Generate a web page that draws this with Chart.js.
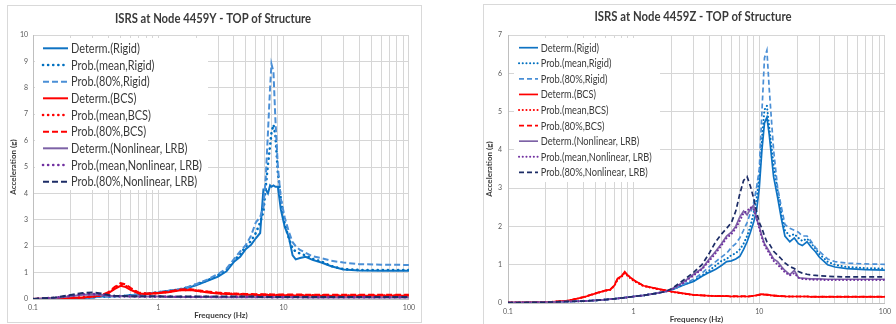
<!DOCTYPE html>
<html><head><meta charset="utf-8">
<script src="https://cdn.jsdelivr.net/npm/chart.js@4.4.1/dist/chart.umd.min.js"></script>
<style>
html,body{margin:0;padding:0;background:#fff;width:896px;height:324px;overflow:hidden;}
.box{position:absolute;border:1px solid #d9d9d9;background:#fff;box-sizing:border-box;}
#boxY{left:7px;top:5px;width:415px;height:318px;}
#boxZ{left:483px;top:4px;width:430px;height:340px;}
canvas{position:absolute;}
</style></head><body>
<div class="box" id="boxY"></div>
<div class="box" id="boxZ"></div>
<canvas id="cY" style="left:8px;top:6px" width="412" height="315"></canvas>
<canvas id="cZ" style="left:484px;top:5px" width="412" height="319"></canvas>
<script>
// ---------- labels ----------
const seriesLabels = ['Determ.(Rigid)','Prob.(mean,Rigid)','Prob.(80%,Rigid)','Determ.(BCS)','Prob.(mean,BCS)','Prob.(80%,BCS)','Determ.(Nonlinear, LRB)','Prob.(mean,Nonlinear, LRB)','Prob.(80%,Nonlinear, LRB)'];
const titleY = 'ISRS at Node 4459Y - TOP of Structure';
const titleZ = 'ISRS at Node 4459Z - TOP of Structure';
const xTickValues = [0.1, 1, 10, 100];
const xTickLabels = ['0.1', '1', '10', '100'];
const yTicksY = [0,1,2,3,4,5,6,7,8,9,10];
const yTicksZ = [0,1,2,3,4,5,6,7];

// ---------- 4459Y data ----------
const freqY = [0.1,0.15,0.2,0.25,0.3,0.35,0.4,0.45,0.5,0.55, 0.6,0.7,0.8,1.0,1.2,1.5,1.8,2.0,2.5,3.0, 3.5,4.0,4.5,5.0,5.5,6.0,6.5,6.9,7.2,7.5, 7.8,8.0,8.3,8.6,9.0,9.5,10.2,11.0,11.8,12.5, 13.5,15,17,20,24,30,40,60,100];
const yDetRigid  = [0,0.01,0.02,0.04,0.06,0.09,0.09,0.1,0.11,0.12, 0.14,0.17,0.2,0.25,0.3,0.36,0.45,0.52,0.7,0.85, 1.05,1.4,1.6,1.9,2.05,2.3,2.5,4.15,4.15,4.0, 4.3,4.25,4.3,4.25,4.25,3.4,2.74,2.35,1.65,1.5, 1.55,1.6,1.48,1.38,1.24,1.12,1.08,1.07,1.07];
const yMeanRigid = [0,0.01,0.02,0.04,0.06,0.09,0.09,0.1,0.11,0.12, 0.14,0.17,0.2,0.25,0.3,0.37,0.47,0.55,0.72,0.9, 1.1,1.45,1.7,2.0,2.2,2.5,2.9,3.3,4.25,5.1, 5.8,6.3,6.6,6.2,4.8,3.8,2.85,2.3,1.9,1.8, 1.72,1.65,1.52,1.42,1.25,1.13,1.1,1.1,1.1];
const y80Rigid   = [0,0.01,0.02,0.04,0.06,0.09,0.09,0.1,0.11,0.12, 0.14,0.17,0.2,0.26,0.31,0.38,0.48,0.56,0.75,0.95, 1.15,1.5,1.8,2.05,2.4,2.9,3.1,3.5,4.6,6.3, 8.0,8.9,8.6,6.8,5.0,3.8,3.1,2.55,2.15,2.0, 1.86,1.75,1.62,1.55,1.45,1.38,1.32,1.3,1.29];
const yDetBCS    = [0,0.02,0.04,0.06,0.09,0.13,0.22,0.38,0.5,0.45, 0.35,0.21,0.19,0.22,0.26,0.33,0.34,0.31,0.25,0.21, 0.19,0.18,0.17,0.16,0.16,0.15,0.15,0.15,0.15,0.15, 0.15,0.14,0.14,0.14,0.14,0.14,0.14,0.13,0.13,0.13, 0.13,0.13,0.13,0.12,0.12,0.12,0.12,0.12,0.12];
const yMeanBCS   = [0,0.02,0.04,0.06,0.09,0.14,0.24,0.42,0.55,0.5, 0.38,0.22,0.2,0.23,0.27,0.34,0.35,0.32,0.26,0.22, 0.2,0.19,0.18,0.17,0.17,0.16,0.16,0.16,0.16,0.16, 0.16,0.15,0.15,0.15,0.15,0.15,0.15,0.14,0.14,0.14, 0.14,0.14,0.14,0.14,0.13,0.13,0.13,0.13,0.13];
const y80BCS     = [0,0.02,0.04,0.06,0.1,0.15,0.26,0.46,0.6,0.55, 0.42,0.24,0.21,0.24,0.28,0.36,0.37,0.34,0.28,0.24, 0.22,0.21,0.2,0.19,0.19,0.18,0.18,0.18,0.18,0.18, 0.18,0.17,0.17,0.17,0.17,0.17,0.17,0.17,0.17,0.17, 0.17,0.16,0.16,0.16,0.16,0.16,0.16,0.16,0.16];
const yDetLRB    = [0,0.04,0.1,0.16,0.17,0.15,0.12,0.1,0.1,0.1, 0.09,0.09,0.09,0.09,0.08,0.08,0.08,0.08,0.08,0.07, 0.07,0.07,0.07,0.07,0.07,0.07,0.07,0.07,0.07,0.07, 0.07,0.07,0.07,0.07,0.07,0.07,0.07,0.07,0.07,0.07, 0.07,0.06,0.06,0.06,0.06,0.06,0.06,0.06,0.06];
const yMeanLRB   = [0,0.05,0.12,0.18,0.19,0.17,0.13,0.11,0.1,0.1, 0.1,0.09,0.09,0.09,0.09,0.08,0.08,0.08,0.08,0.08, 0.08,0.08,0.08,0.08,0.08,0.08,0.08,0.08,0.08,0.08, 0.07,0.07,0.07,0.07,0.07,0.07,0.07,0.07,0.07,0.07, 0.07,0.07,0.07,0.07,0.07,0.07,0.07,0.07,0.07];
const y80LRB     = [0,0.06,0.15,0.23,0.25,0.21,0.15,0.12,0.11,0.11, 0.1,0.1,0.1,0.1,0.09,0.09,0.09,0.09,0.09,0.09, 0.09,0.09,0.09,0.09,0.09,0.09,0.08,0.08,0.08,0.08, 0.08,0.08,0.08,0.08,0.08,0.08,0.08,0.08,0.08,0.08, 0.08,0.08,0.08,0.08,0.08,0.08,0.08,0.08,0.08];

// ---------- 4459Z data ----------
const freqZ = [0.1,0.15,0.2,0.3,0.4,0.5,0.6,0.65,0.7,0.75, 0.8,0.85,0.9,1.0,1.2,1.5,1.8,2.0,2.5,3.0, 3.5,4.0,4.5,5.0,5.5,6.0,6.5,7.0,7.5,8.0, 8.5,9.0,9.5,10.0,10.5,11.0,11.5,12.0,13.0,14.0, 15.0,16.0,17.5,19.0,20.5,22,24,26,28,30, 35,40,50,70,100];
const zDetRigid  = [0.01,0.015,0.02,0.04,0.05,0.07,0.09,0.1,0.11,0.12, 0.13,0.14,0.15,0.17,0.2,0.25,0.3,0.34,0.47,0.56, 0.7,0.8,0.88,0.98,1.08,1.1,1.15,1.22,1.4,1.6, 1.85,2.1,2.4,3.0,4.0,4.7,4.85,4.4,3.3,2.75, 2.2,1.75,1.6,1.7,1.55,1.5,1.6,1.45,1.34,1.2, 1.0,0.94,0.9,0.87,0.86];
const zMeanRigid = [0.01,0.015,0.02,0.04,0.05,0.07,0.09,0.1,0.11,0.12, 0.13,0.14,0.15,0.17,0.2,0.25,0.3,0.34,0.48,0.58, 0.72,0.85,0.98,1.1,1.15,1.25,1.3,1.4,1.55,1.75, 2.0,2.35,2.7,3.3,4.3,5.05,5.15,4.6,3.6,2.95, 2.35,1.9,1.75,1.8,1.7,1.62,1.68,1.55,1.42,1.28, 1.08,1.0,0.94,0.91,0.9];
const z80Rigid   = [0.01,0.015,0.02,0.04,0.05,0.07,0.09,0.1,0.11,0.12, 0.13,0.14,0.15,0.17,0.2,0.25,0.3,0.34,0.49,0.62, 0.78,0.95,1.08,1.2,1.3,1.45,1.55,1.7,1.9,2.1, 2.35,2.6,3.0,3.5,5.0,6.4,6.6,5.6,4.0,3.0, 2.5,2.05,1.95,1.9,1.85,1.75,1.75,1.6,1.45,1.35, 1.15,1.08,1.04,1.02,1.01];
const zDetBCS    = [0.01,0.015,0.02,0.06,0.15,0.25,0.33,0.35,0.45,0.65, 0.7,0.82,0.72,0.6,0.45,0.38,0.33,0.3,0.25,0.21, 0.2,0.19,0.18,0.18,0.18,0.17,0.17,0.17,0.17,0.17, 0.17,0.19,0.2,0.22,0.23,0.22,0.22,0.21,0.19,0.18, 0.18,0.17,0.17,0.17,0.17,0.17,0.17,0.16,0.16,0.16, 0.16,0.16,0.16,0.16,0.16];
const zMeanBCS   = [0.01,0.015,0.02,0.06,0.15,0.25,0.32,0.34,0.44,0.62, 0.68,0.78,0.7,0.58,0.44,0.37,0.32,0.29,0.24,0.21, 0.2,0.19,0.18,0.18,0.18,0.17,0.17,0.17,0.17,0.17, 0.17,0.19,0.2,0.21,0.22,0.22,0.21,0.2,0.19,0.18, 0.18,0.17,0.17,0.17,0.17,0.17,0.17,0.16,0.16,0.16, 0.16,0.16,0.16,0.16,0.16];
const z80BCS     = [0.01,0.015,0.02,0.06,0.16,0.26,0.33,0.35,0.46,0.66, 0.7,0.8,0.72,0.6,0.45,0.38,0.33,0.3,0.25,0.21, 0.2,0.19,0.19,0.18,0.18,0.18,0.18,0.18,0.18,0.18, 0.18,0.19,0.2,0.22,0.23,0.22,0.22,0.21,0.2,0.19, 0.18,0.18,0.17,0.17,0.17,0.17,0.17,0.17,0.17,0.17, 0.17,0.17,0.17,0.17,0.17];
const zDetLRB    = [0.01,0.015,0.02,0.04,0.05,0.07,0.09,0.1,0.11,0.12, 0.13,0.14,0.15,0.17,0.2,0.25,0.3,0.36,0.55,0.75, 0.9,1.15,1.35,1.55,1.75,1.85,2.0,2.25,2.4,2.3, 2.45,2.55,2.2,2.0,1.75,1.55,1.45,1.35,1.15,1.08, 0.95,0.85,0.74,0.85,0.66,0.65,0.64,0.63,0.63,0.63, 0.62,0.62,0.62,0.62,0.62];
const zMeanLRB   = [0.01,0.015,0.02,0.04,0.05,0.07,0.09,0.1,0.11,0.12, 0.13,0.14,0.15,0.17,0.2,0.25,0.3,0.35,0.53,0.72, 0.88,1.1,1.3,1.5,1.7,1.8,1.95,2.15,2.35,2.4, 2.5,2.45,2.25,1.95,1.7,1.5,1.4,1.3,1.1,1.0, 0.9,0.8,0.72,0.78,0.66,0.63,0.62,0.61,0.61,0.61, 0.6,0.6,0.6,0.6,0.6];
const z80LRB     = [0.01,0.015,0.02,0.04,0.05,0.07,0.09,0.1,0.11,0.12, 0.13,0.14,0.15,0.17,0.2,0.25,0.3,0.37,0.6,0.8, 1.0,1.3,1.6,1.8,1.95,2.1,2.4,2.85,3.2,3.3, 3.05,2.75,2.4,2.1,1.95,1.75,1.6,1.55,1.35,1.25, 1.15,1.05,0.95,0.9,0.82,0.78,0.75,0.73,0.72,0.71, 0.7,0.69,0.68,0.68,0.68];

// ---------- styles ----------
const seriesColors = ['#0F73C3','#0070C0','#4A8FD6','#FF0000','#FF0000','#FF0000','#7D62A6','#7030A0','#1C2C66'];
const seriesKinds  = ['solid','dot','dash','solid','dot','dash','solid','dot','dash'];

function gridValues() {
  const out = [];
  [0.1, 1, 10].forEach(d => { for (let m = 1; m < 10; m++) out.push(parseFloat((d * m).toPrecision(3))); });
  out.push(100);
  return out;
}

const legendPlugin = {
  id: 'boxLegend',
  beforeDatasetsDraw(chart, args, o) {
    const ctx = chart.ctx;
    ctx.save();
    ctx.fillStyle = '#ffffff';
    ctx.fillRect(o.box[0], o.box[1], o.box[2], o.box[3]);
    ctx.font = o.font;
    ctx.textBaseline = 'middle';
    ctx.textAlign = 'left';
    const ds = chart.data.datasets;
    const widths = ds.map(d => ctx.measureText(d.label).width);
    const k = Math.min(1, o.textW / Math.max(...widths));
    ds.forEach((d, i) => {
      const y = o.y0 + i * o.rowH;
      ctx.strokeStyle = d.borderColor;
      ctx.lineWidth = d.borderWidth;
      ctx.lineCap = d.borderCapStyle || 'butt';
      ctx.setLineDash(d.borderDash || []);
      ctx.beginPath(); ctx.moveTo(o.x0, y); ctx.lineTo(o.x0 + o.sampleW, y); ctx.stroke();
      ctx.setLineDash([]);
      ctx.fillStyle = '#3a3a3a';
      ctx.fillText(d.label, o.tx, y + 0.5, widths[i] * k);
    });
    ctx.restore();
  }
};
const titlePlugin = {
  id: 'fixedTitle',
  afterDraw(chart, args, o) {
    const ctx = chart.ctx;
    ctx.save();
    ctx.font = o.font; ctx.fillStyle = '#3a3a3a';
    ctx.textAlign = 'center'; ctx.textBaseline = 'middle';
    const w = ctx.measureText(o.text).width;
    ctx.fillText(o.text, o.x, o.y, Math.min(w, o.w));
    ctx.restore();
  }
};

function makeChart(id, freqs, series, yTicks, L) {
  const datasets = series.map((vals, i) => {
    const kind = seriesKinds[i];
    return {
      label: seriesLabels[i],
      data: vals.map((v, j) => ({ x: freqs[j], y: v })),
      borderColor: seriesColors[i],
      backgroundColor: seriesColors[i],
      borderWidth: kind === 'dot' ? L.dotW : L.lineW,
      borderDash: kind === 'dot' ? L.dotDash : (kind === 'dash' ? L.dashDash : []),
      borderCapStyle: kind === 'dot' ? 'round' : 'butt',
      pointRadius: 0, tension: 0, fill: false,
      order: 9 - i
    };
  });
  const gv = gridValues();
  return new Chart(document.getElementById(id), {
    type: 'line',
    data: { datasets },
    plugins: [legendPlugin, titlePlugin],
    options: {
      responsive: false, animation: false, devicePixelRatio: 1,
      layout: { padding: { left: 0, top: L.top, right: L.right, bottom: 0 } },
      plugins: {
        legend: { display: false }, tooltip: { enabled: false }, title: { display: false },
        boxLegend: L.legend,
        fixedTitle: L.title
      },
      scales: {
        x: {
          type: 'logarithmic', min: 0.1, max: 100,
          afterBuildTicks(s) { s.ticks = gv.map(v => ({ value: v })); },
          afterFit(s) { s.height = L.xH; },
          ticks: {
            autoSkip: false, maxRotation: 0, minRotation: 0, padding: L.xPad,
            font: { family: 'Lato', size: 7 }, color: '#595959',
            callback(v) { const i = xTickValues.indexOf(v); return i >= 0 ? xTickLabels[i] : ''; }
          },
          grid: { color: '#d6d6d6', lineWidth: 1, drawTicks: false },
          border: { color: '#bfbfbf' },
          title: { display: true, text: 'Frequency (Hz)', color: '#3a3a3a', font: { family: 'Lato', size: 8, weight: 'bold' }, padding: { top: 0, bottom: L.xTitlePad } }
        },
        y: {
          min: 0, max: yTicks[yTicks.length - 1],
          afterBuildTicks(s) { s.ticks = yTicks.map(v => ({ value: v })); },
          afterFit(s) { s.width = L.yW; },
          ticks: { padding: L.yPad, font: { family: 'Lato', size: 7 }, color: '#595959' },
          grid: { color: '#d6d6d6', lineWidth: 1, drawTicks: false },
          border: { color: '#bfbfbf' },
          title: { display: true, text: 'Acceleration (g)', color: '#3a3a3a', font: { family: 'Lato', size: 8, weight: 'bold' }, padding: { top: 1, bottom: 0 } }
        }
      }
    }
  });
}

makeChart('cY', freqY,
  [yDetRigid, yMeanRigid, y80Rigid, yDetBCS, yMeanBCS, y80BCS, yDetLRB, yMeanLRB, y80LRB],
  yTicksY,
  { top: 29, right: 11, xH: 22, yW: 25, xPad: 5, yPad: 5, xTitlePad: 1,
    lineW: 2, dotW: 2.6, dotDash: [0.1, 5], dashDash: [6, 3],
    legend: { box: [27, 32, 173, 152], x0: 35, sampleW: 25, tx: 63, y0: 42.3, rowH: 16.67, textW: 131, font: '13px Lato' },
    title: { text: titleY, x: 205, y: 13, w: 196, font: 'bold 13px Lato' } });

makeChart('cZ', freqZ,
  [zDetRigid, zMeanRigid, z80Rigid, zDetBCS, zMeanBCS, z80BCS, zDetLRB, zMeanLRB, z80LRB],
  yTicksZ,
  { top: 30, right: 5, xH: 21, yW: 24, xPad: 5, yPad: 6, xTitlePad: 0,
    lineW: 1.7, dotW: 2, dotDash: [0.1, 3.6], dashDash: [5, 3],
    legend: { box: [30, 33, 146, 144], x0: 35, sampleW: 19, tx: 56.7, y0: 42.7, rowH: 15.58, textW: 111, font: '11px Lato' },
    title: { text: titleZ, x: 209, y: 12, w: 197, font: 'bold 13px Lato' } });
</script>
</body></html>
